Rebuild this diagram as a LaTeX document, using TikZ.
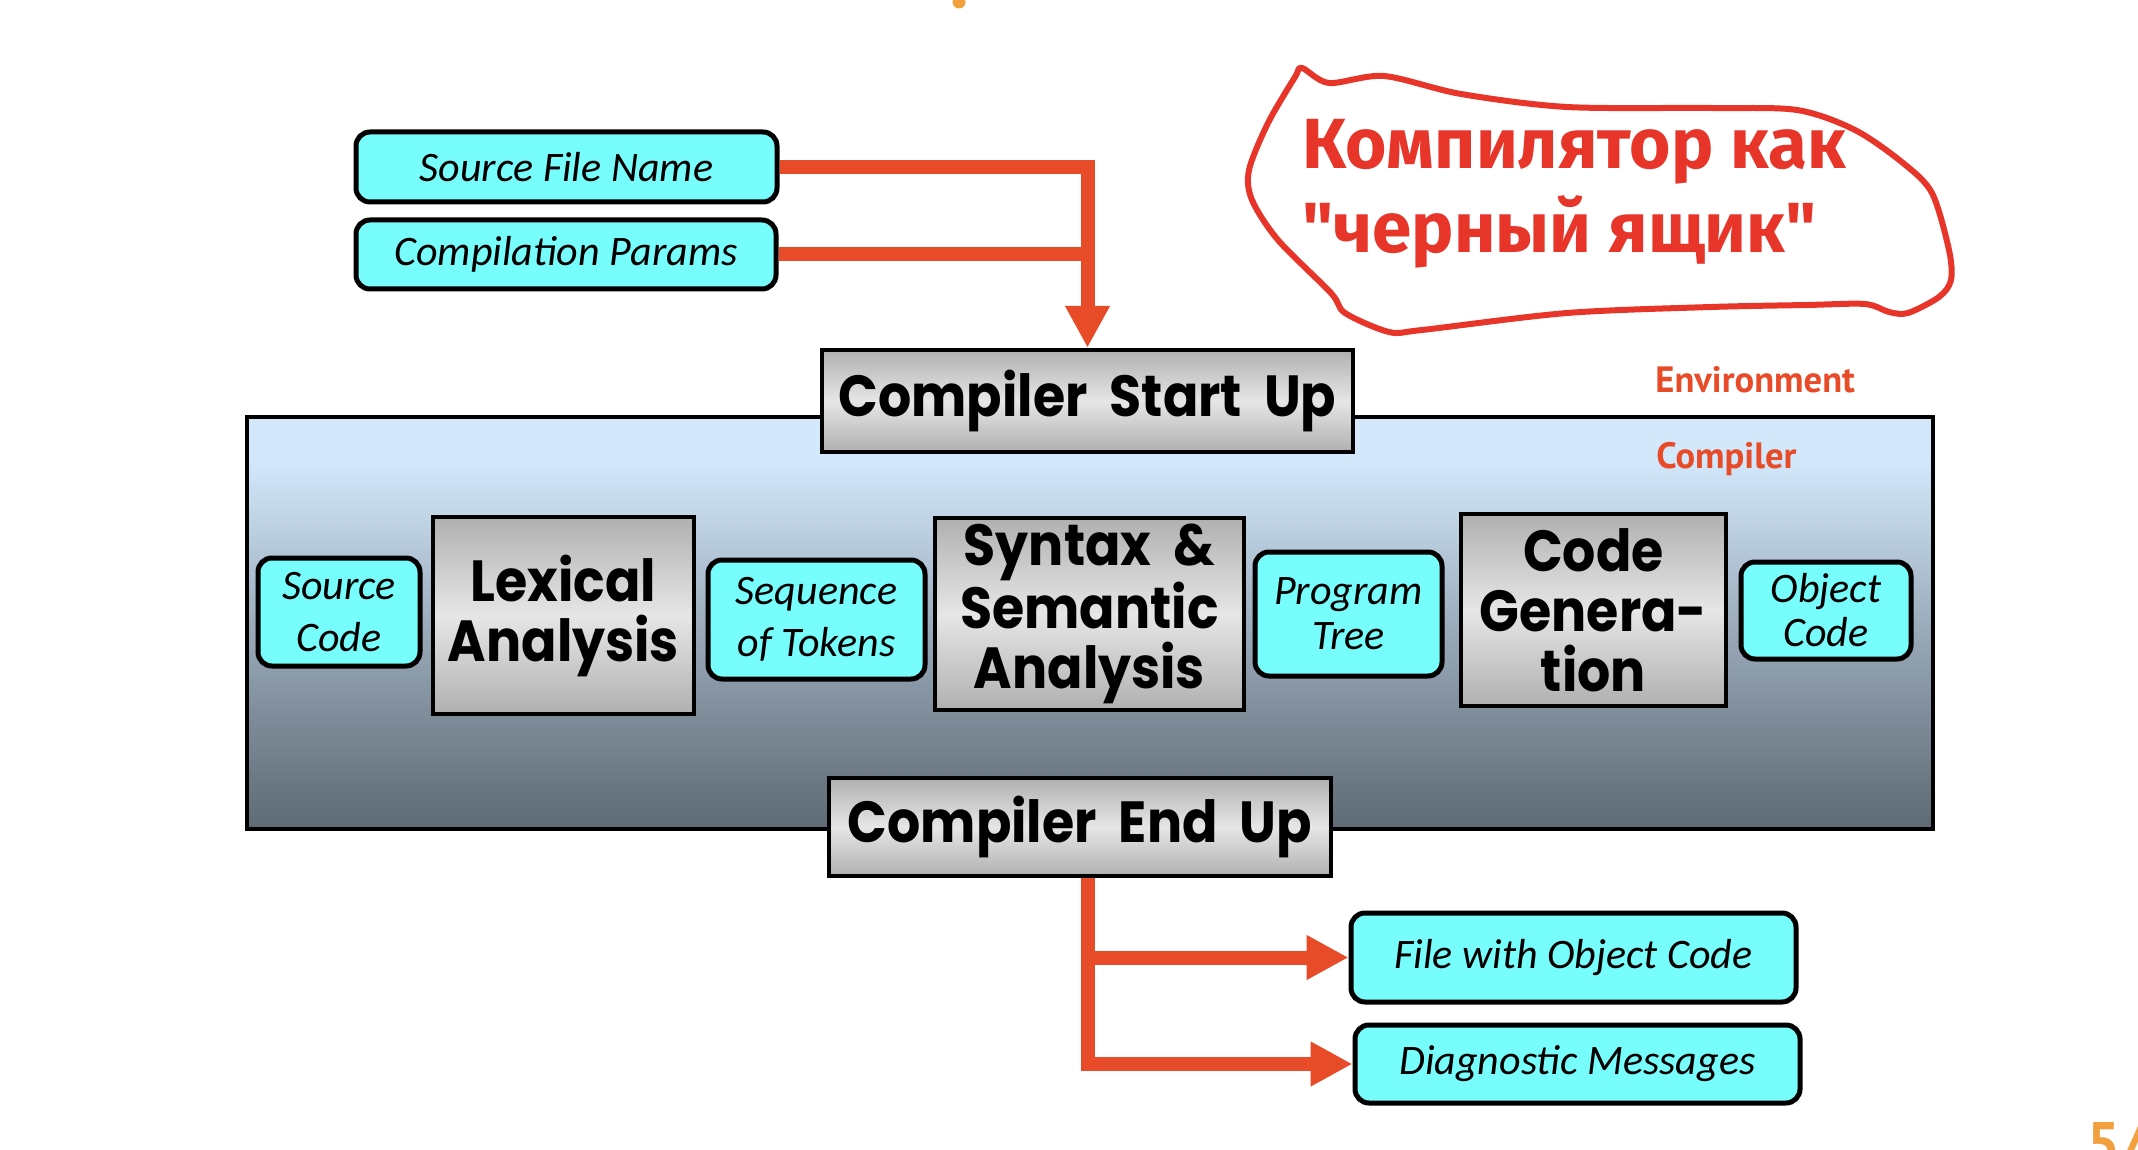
\documentclass[tikz,border=0pt]{standalone}
\usepackage{fontspec}
\setmainfont{Carlito}
\newfontfamily\comicfont{Poppins}[FakeStretch=0.9,WordSpace=2]
\newfontfamily\labelfont{PT Sans}
\newfontfamily\cyrfont{Fira Sans}
\usetikzlibrary{arrows.meta}
\definecolor{cyanfill}{HTML}{78FDFD}
\definecolor{redline}{HTML}{E84B28}
\definecolor{handred}{HTML}{E8352A}
\definecolor{boxgray}{HTML}{B0B0B0}
\definecolor{boxlight}{HTML}{E6E6E6}
\definecolor{orangeish}{HTML}{F2A03D}
\definecolor{mA}{HTML}{5E6A75}
\definecolor{mB}{HTML}{7A8895}
\definecolor{mC}{HTML}{9CACBC}
\definecolor{mD}{HTML}{BED2E4}
\definecolor{mE}{HTML}{D3E8FB}
\pgfdeclareverticalshading{mainshade}{100bp}{color(0bp)=(mA); color(25bp)=(mA); color(37bp)=(mB); color(50bp)=(mC); color(62bp)=(mD); color(70bp)=(mE); color(100bp)=(mE)}
\begin{document}
\begin{tikzpicture}[x=0.5pt,y=-0.5pt,
  cyanbox/.style={draw=black, line width=2.5pt, fill=cyanfill, rounded corners=7pt, inner sep=0pt, align=center, font=\itshape\fontsize{21}{26}\selectfont},
  graybox/.style={draw=black, line width=2.2pt, top color=boxgray, bottom color=boxgray, middle color=boxlight, inner sep=0pt, align=center, font=\comicfont\bfseries\fontsize{29}{30}\selectfont},
  redconn/.style={draw=redline, line width=7pt},
  redarrow/.style={redconn, -{Triangle[width=21pt,length=21pt]}},
  envlabel/.style={text=redline, anchor=base west, inner sep=0pt, font=\labelfont\bfseries\fontsize{18.3}{20}\selectfont},
  cyrtext/.style={text=handred, anchor=base west, inner sep=0pt, font=\cyrfont\bfseries\fontsize{35.5}{42}\selectfont}]
\useasboundingbox (0,0) rectangle (2138,1150);
\clip (0,0) rectangle (2138,1150);
\fill[orangeish] (959,2) circle (6.5);
% hand drawn outline
\draw[handred, line width=3pt, line join=round] plot[smooth cycle, tension=0.5] coordinates {(1302,68) (1329,83) (1384,76) (1461,94) (1567,107) (1711,108) (1797,110) (1855,130) (1903,163) (1932,193) (1949,250) (1951,280) (1939,297) (1908,313) (1889,312) (1865,304) (1807,305) (1711,307) (1567,313) (1422,330) (1389,332) (1345,313) (1331,293) (1278,240) (1252,200) (1249,170) (1268,123) (1295,77)};
\node[cyrtext] (rt1) at (1302,169) {Компилятор как};
\node[cyrtext] (rt2) at (1302,253) {"черный ящик"};
% main compiler area
\shadedraw[shading=mainshade, draw=black, line width=2pt] (247,417) rectangle (1933,829);
\node[envlabel] (env) at (1655,393) {Environment};
\node[envlabel] (cmpl) at (1656,468) {Compiler};
% input boxes
\node[cyanbox, minimum width=210.5pt, minimum height=35pt] (sfn) at (566.5,167) {Source File Name};
\node[cyanbox, minimum width=210pt, minimum height=34.5pt] (cp) at (566,254.5) {Compilation Params};
\node[graybox, minimum width=265.5pt, minimum height=51pt] (su) at (1087.5,401) {Compiler Start Up};
% pipeline
\node[cyanbox, minimum width=81pt, minimum height=54pt] (sc) at (339,612) {Source\\Code};
\node[graybox, minimum width=130.5pt, minimum height=98.5pt] (lex) at (563.5,615.5) {Lexical\\Analysis};
\node[cyanbox, minimum width=108.5pt, minimum height=59.5pt] (sot) at (816.5,619.5) {Sequence\\of Tokens};
\node[graybox, minimum width=154.5pt, minimum height=96pt] (ssa) at (1089.5,614) {Syntax \&\\Semantic\\Analysis};
\node[cyanbox, minimum width=93.5pt, minimum height=62pt, font=\itshape\fontsize{21}{22.5}\selectfont] (pt) at (1348.5,614) {Program\\Tree};
\node[graybox, minimum width=132.5pt, minimum height=96pt] (cg) at (1593.5,610) {Code\\Genera-\\tion};
\node[cyanbox, minimum width=85pt, minimum height=48.5pt, font=\itshape\fontsize{21}{22}\selectfont] (oc) at (1826,610.5) {Object\\Code};
\node[graybox, minimum width=251pt, minimum height=49pt] (eu) at (1080,827) {Compiler End Up};
% outputs
\node[cyanbox, minimum width=222.5pt, minimum height=44.5pt] (fwoc) at (1573.5,957.5) {File with Object Code};
\node[cyanbox, minimum width=222.5pt, minimum height=39pt] (dm) at (1577.5,1064) {Diagnostic Messages};
% connectors
\draw[redarrow] (sfn.east) -| (su.north);
\draw[redconn] (cp.east) -- (cp.east -| su.north);
\draw[redarrow] (su.north |- eu.south) |- (fwoc.west);
\draw[redarrow] (su.north |- eu.south) |- (dm.west);
% page number fragment
\node[text=orangeish, anchor=base west, inner sep=0pt, font=\labelfont\bfseries\fontsize{30}{30}\selectfont] (pg) at (2086,1164) {5/};
\end{tikzpicture}
\end{document}
